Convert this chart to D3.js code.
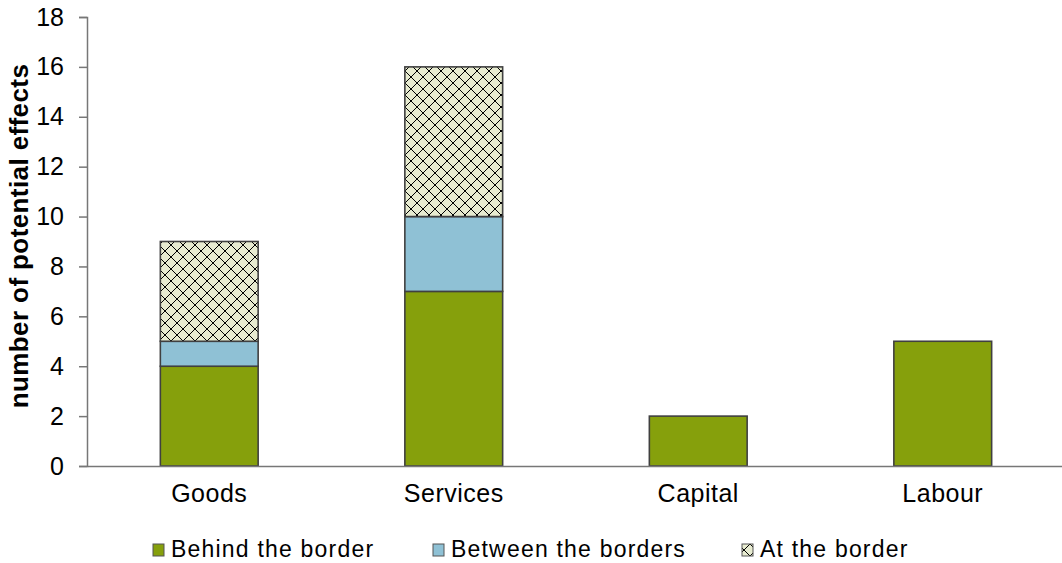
<!DOCTYPE html>
<html>
<head>
<meta charset="utf-8">
<script src="https://cdn.jsdelivr.net/npm/d3@7"></script>
<style>
  body { margin: 0; background: #fff; }
  text { font-family: "Liberation Sans", Arial, sans-serif; fill: #000; }
</style>
</head>
<body>
<script>
// data
var categories = ["Goods", "Services", "Capital", "Labour"];
var seriesNames = ["Behind the border", "Between the borders", "At the border"];
var behindBorder = [4, 7, 2, 5];
var betweenBorders = [1, 3, 0, 0];
var atBorder = [4, 6, 0, 0];
var yTicks = [0, 2, 4, 6, 8, 10, 12, 14, 16, 18];

var svgWidth = 1062, svgHeight = 563;
var margin = { top: 17, right: 0, bottom: 97, left: 87 };
var chartwidth = svgWidth - margin.left - margin.right + 3;
var chartheight = svgHeight - margin.top - margin.bottom;
var fontStack = "Liberation Sans, Arial, sans-serif";

var svg = d3.select("body").append("svg")
  .attr("width", svgWidth)
  .attr("height", svgHeight);

// cross hatch pattern
var defs = svg.append("defs");
var pat = defs.append("pattern")
  .attr("id", "diamond")
  .attr("patternUnits", "userSpaceOnUse")
  .attr("width", 12).attr("height", 12);
pat.append("rect").attr("width", 12).attr("height", 12).attr("fill", "#e7ebd0");
pat.append("path")
  .attr("d", "M0,0L12,12M12,0L0,12")
  .attr("stroke", "#000").attr("stroke-width", 1.1)
  .attr("shape-rendering", "crispEdges");

var chartGroup = svg.append("g")
  .attr("transform", `translate(${margin.left}, ${margin.top})`);

var table = categories.map(function(c, i) {
  return { cat: c, behind: behindBorder[i], between: betweenBorders[i], at: atBorder[i] };
});

var stack = d3.stack().keys(["behind", "between", "at"]);
var stacked = stack(table);

var xScale = d3.scaleBand()
  .domain(categories)
  .range([0, chartwidth])
  .paddingInner(0.6)
  .paddingOuter(0.3);

var yScale = d3.scaleLinear()
  .domain([0, 18])
  .range([chartheight, 0]);

var fills = ["#86a00c", "#8fc1d5", "url(#diamond)"];

// bars
chartGroup.selectAll("g.layer")
  .data(stacked)
  .enter()
  .append("g")
  .attr("class", "layer")
  .attr("fill", (d, i) => fills[i])
  .selectAll("rect")
  .data(d => d.filter(p => p[1] > p[0]))
  .enter()
  .append("rect")
  .attr("x", d => xScale(d.data.cat))
  .attr("y", d => yScale(d[1]))
  .attr("width", xScale.bandwidth())
  .attr("height", d => yScale(d[0]) - yScale(d[1]))
  .attr("stroke", "#404040")
  .attr("stroke-width", 1.6);

// axes
var leftAxis = d3.axisLeft(yScale).tickValues(yTicks).tickSize(8).tickPadding(15);
var yAxis = chartGroup.append("g").call(leftAxis);
yAxis.select(".domain").attr("stroke", "#777").attr("stroke-width", 1.5);
yAxis.selectAll(".tick line").attr("stroke", "#777").attr("stroke-width", 1.5);
yAxis.selectAll("text").attr("font-size", "25px").attr("font-family", fontStack);

var bottomAxis = d3.axisBottom(xScale).tickSize(0).tickPadding(18);
var xAxis = chartGroup.append("g")
  .attr("transform", `translate(0, ${chartheight})`)
  .call(bottomAxis);
xAxis.select(".domain").attr("stroke", "#777").attr("stroke-width", 1.5);
xAxis.selectAll("text").attr("font-size", "25px").attr("font-family", fontStack)
  .attr("letter-spacing", "0.5px");

// y title
chartGroup.append("text")
  .attr("transform", "rotate(-90)")
  .attr("x", -(236 - margin.top))
  .attr("y", -margin.left + 28)
  .attr("text-anchor", "middle")
  .attr("font-size", "26px")
  .attr("font-weight", "bold")
  .attr("letter-spacing", "0.4px")
  .text("number of potential effects");

// legend
var legendX = [153, 433, 742];
var legend = svg.append("g").attr("transform", "translate(0, 550)");
seriesNames.forEach(function(name, i) {
  legend.append("rect")
    .attr("x", legendX[i]).attr("y", -6)
    .attr("width", 11).attr("height", 12)
    .attr("fill", fills[i])
    .attr("stroke", "#555").attr("stroke-width", 1);
  legend.append("text")
    .attr("x", legendX[i] + 18).attr("y", 7)
    .attr("font-size", "23px")
    .attr("letter-spacing", "1.2px")
    .text(name);
});
</script>
</body>
</html>
